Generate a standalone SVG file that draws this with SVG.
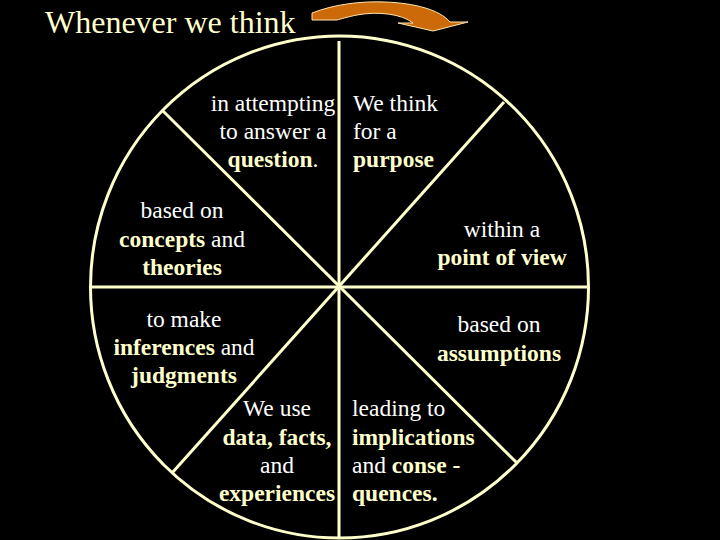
<svg xmlns="http://www.w3.org/2000/svg" width="720" height="540" viewBox="0 0 720 540">
<style>
text{font-family:'Liberation Serif','Times New Roman',serif;font-size:23.5px;fill:#ffffff}
.b{font-weight:bold;fill:#ffffcc}
.c{text-anchor:middle}
.ln{stroke:#ffffcc;stroke-width:3;fill:none}
</style>
<rect width="720" height="540" fill="#000000"/>
<g id="title">
<text x="45" y="33" style="font-size:32px;fill:#ffffcc">Whenever we think</text>
<path d="M312,20 L312,13 C335,4 362,1 385,2 C415,3 440,10 450,22 L468,22 L433,31 L398,23 L413,23 C402,14 378,11 357,15 C347,17 341,19 337,20 Z" fill="#cc6a0a" stroke="#ffe6b0" stroke-width="1"/>
</g>
<g id="connectors">
<ellipse class="ln" cx="339.5" cy="287" rx="249" ry="251"/>
<line class="ln" x1="339" y1="41" x2="339" y2="538"/>
<line class="ln" x1="91" y1="287" x2="588" y2="287"/>
<line class="ln" x1="162" y1="110" x2="517" y2="463"/>
<line class="ln" x1="504" y1="102" x2="172" y2="473"/>
</g>
<g id="question">
<text class="c" x="273" y="111">in attempting</text>
<text class="c" x="273" y="139">to answer a</text>
<text class="c" x="273" y="167"><tspan class="b">question</tspan>.</text>
</g>
<g id="purpose">
<text x="353" y="111">We think</text>
<text x="353" y="139">for a</text>
<text x="353" y="167" class="b">purpose</text>
</g>
<g id="concepts">
<text class="c" x="182" y="218">based on</text>
<text class="c" x="182" y="247"><tspan class="b">concepts</tspan> and</text>
<text class="c b" x="182" y="275">theories</text>
</g>
<g id="pointofview">
<text class="c" x="502" y="237">within a</text>
<text class="c b" x="502" y="265">point of view</text>
</g>
<g id="inferences">
<text class="c" x="184" y="327">to make</text>
<text class="c" x="184" y="355"><tspan class="b">inferences</tspan> and</text>
<text class="c b" x="184" y="383">judgments</text>
</g>
<g id="assumptions">
<text class="c" x="499" y="332">based on</text>
<text class="c b" x="499" y="361">assumptions</text>
</g>
<g id="data">
<text class="c" x="277" y="416">We use</text>
<text class="c b" x="277" y="445">data, facts,</text>
<text class="c" x="277" y="473">and</text>
<text class="c b" x="277" y="501">experiences</text>
</g>
<g id="implications">
<text x="352" y="416">leading to</text>
<text x="352" y="445" class="b">implications</text>
<text x="352" y="473">and <tspan class="b">conse -</tspan></text>
<text x="352" y="501" class="b">quences.</text>
</g>
</svg>
